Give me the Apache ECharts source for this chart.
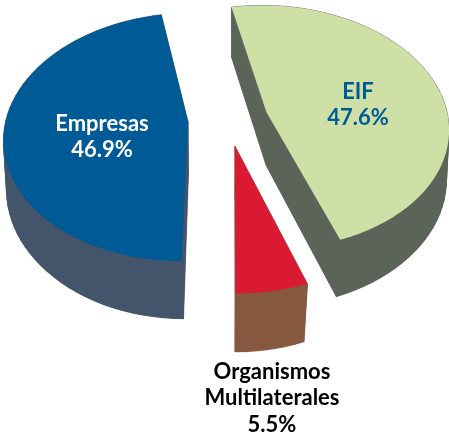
<!DOCTYPE html>
<html><head><meta charset="utf-8">
<style>html,body{margin:0;padding:0;background:#fff}#c{width:449px;height:439px}</style>
<script src="https://cdn.jsdelivr.net/npm/echarts@6/dist/echarts.min.js"></script>
</head><body><div id="c"></div>
<script>
// Data, clockwise from the start angle
const categories = ['EIF', 'Organismos\nMultilaterales', 'Empresas'];
const shares = [47.6, 5.5, 46.9];
const valueLabels = ['47.6%', '5.5%', '46.9%'];

// Styling
const topColors = ['#CFE0A6', '#D91A32', '#005A96'];
const sideColors = ['#5C645A', '#875840', '#44546A'];
const labelColors = ['#005A96', '#000000', '#FFFFFF'];
const labelAnchors = [[358, 105], [272, 398], [102, 137]];

// Projection of the tilted pie
const P = {cx: 228, cy: 119, rx: 182, ry: 121.6, k: 0.125, explode: 0.22, start: -11};
const rad = Math.PI / 180;
function project(X, D) {
  const s = 1 / (1 + P.k * D);
  return {x: P.cx + P.rx * X * s, y: P.cy - P.ry * D * s, s};
}
function lower(p) {
  const xs = 1 - (p.s - 0.95) * 0.2;
  return [P.cx + (p.x - P.cx) * xs, p.y + 50 + (p.s - 0.88) * 28];
}
const total = shares.reduce((a, b) => a + b, 0);

const chart = echarts.init(document.getElementById('c'), null, {renderer: 'canvas'});
chart.setOption({
  animation: false,
  backgroundColor: '#fff',
  series: [{
    type: 'custom',
    coordinateSystem: 'none',
    silent: true,
    data: categories.map((n, i) => ({name: n, value: [shares[i], i]})),
    renderItem(params, api) {
      const i = api.value(1), v = api.value(0);
      let before = 0;
      for (let j = 0; j < i; j++) before += shares[j];
      const a0 = P.start + before / total * 360;
      const a1 = a0 + v / total * 360;
      const mid = (a0 + a1) / 2 * rad;
      const ex = Math.sin(mid) * P.explode, ey = Math.cos(mid) * P.explode;
      const pts = [project(ex, ey)];
      const n = Math.max(6, Math.round((a1 - a0) / 3));
      for (let q = 0; q <= n; q++) {
        const t = (a0 + (a1 - a0) * q / n) * rad;
        pts.push(project(Math.sin(t) + ex, Math.cos(t) + ey));
      }
      const upper = pts.map(p => [p.x, p.y]);
      const under = pts.map(lower);
      const side = sideColors[i];
      const children = [];
      for (let q = 0; q < pts.length; q++) {
        const r = (q + 1) % pts.length;
        children.push({type: 'polygon', shape: {points: [upper[q], upper[r], under[r], under[q]]},
          style: {fill: side, stroke: side, lineWidth: 0.6}});
      }
      children.push({type: 'polygon', shape: {points: under}, style: {fill: side}});
      children.push({type: 'polygon', shape: {points: upper}, style: {fill: topColors[i]}});
      children.push({type: 'text', x: labelAnchors[i][0], y: labelAnchors[i][1], z2: 10,
        style: {text: categories[i] + '\n' + valueLabels[i], fill: labelColors[i],
          font: '700 22px Lato, "Open Sans", sans-serif', lineHeight: 26.5,
          align: 'center', verticalAlign: 'middle'}});
      return {type: 'group', children};
    }
  }]
});
</script></body></html>
